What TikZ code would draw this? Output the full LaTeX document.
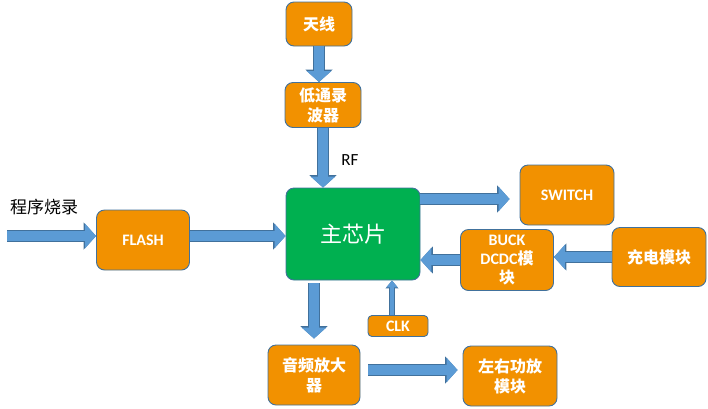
\documentclass[tikz,border=0pt]{standalone}
\usepackage{fontspec}
\setmainfont{Carlito}
\newfontfamily\cjk{Noto Sans CJK SC}
\usetikzlibrary{arrows.meta, positioning}
\definecolor{Amber}{HTML}{F29100}
\definecolor{Slate}{HTML}{41719C}
\definecolor{Leaf}{HTML}{00B050}
\definecolor{Sky}{HTML}{5B9BD5}

\begin{document}
\begin{tikzpicture}[x=1pt, y=-1pt,
    blk/.style={
        draw=Slate, line width=0.9pt, fill=Amber, rounded corners=8pt,
        text=white, align=center, inner sep=2pt,
        font=\bfseries\fontsize{16}{19}\selectfont
    },
    zh/.style={font=\cjk\bfseries\fontsize{16}{20}\selectfont},
    fat/.style={draw=Sky, line width=10pt, -{Triangle[length=11pt, width=24pt]},
        preaction={draw=Slate, line width=11.4pt, -{Triangle[length=12.4pt, width=26.5pt]}}},
    slim/.style={draw=Sky, line width=4.5pt, -{Triangle[length=7pt, width=11pt]},
        preaction={draw=Slate, line width=5.8pt, -{Triangle[length=8pt, width=12.5pt]}}}
]
\useasboundingbox (0,0) rectangle (708,408);

% === Receive chain ===
\node[blk, zh, minimum width=66, minimum height=44] (ant) at (319,24) {天线};
\node[blk, zh, minimum width=76, minimum height=45] (lpf) at (323,105) {低通录\\波器};

% === Main chip ===
\node[blk, fill=Leaf, minimum width=134, minimum height=92,
      font=\cjk\fontsize{22}{26}\selectfont] (mcu) at (353,234) {主芯片};

% === Peripherals ===
\node[blk, minimum width=93, minimum height=60] (flash) at (143,240) {FLASH};
\node[blk, minimum width=94, minimum height=60] (sw) at (567,195) {SWITCH};
\node[blk, minimum width=93, minimum height=61] (buck) at (507,260)
    {BUCK\\DCDC{\cjk 模}\\{\cjk 块}};
\node[blk, zh, minimum width=94, minimum height=59] (chg) at (659,257) {充电模块};
\node[blk, minimum width=60, minimum height=21, rounded corners=4pt] (clk) at (398,326) {CLK};
\node[blk, zh, minimum width=92, minimum height=60] (amp) at (314,375) {音频放大\\器};
\node[blk, zh, minimum width=94, minimum height=60] (spk) at (510,376) {左右功放\\模块};

% === Free labels ===
\node[font=\fontsize{17}{20}\selectfont] (rf) at (350,160) {RF};
\node[font=\cjk\fontsize{17}{20}\selectfont] (prog) at (44,207) {程序烧录};
\coordinate (src) at (7,236);

% === Arrows ===
\draw[fat] (ant.south) -- (ant.south |- lpf.north);
\draw[fat] (lpf.south) -- (lpf.south |- mcu.north);
\draw[fat] (src) -- (src -| flash.west);
\draw[fat] ([yshift=4]flash.east) -- ([yshift=4]flash.east -| mcu.west);
\draw[fat] ([yshift=-4]mcu.east |- sw.west) -- ([xshift=-10, yshift=-4]sw.west);
\draw[fat] (buck.west) -- (buck.west -| mcu.east);
\draw[fat] (chg.west) -- (chg.west -| buck.east);
\draw[slim] ([xshift=-6]clk.north) -- ([xshift=-6]clk.north |- mcu.south);
\draw[fat] ([yshift=-3]mcu.south -| amp.north) -- ([yshift=6]amp.north);
\draw[fat] ([xshift=8, yshift=5]amp.east) -- ([xshift=-5, yshift=5]amp.east -| spk.west);

\end{tikzpicture}
\end{document}
